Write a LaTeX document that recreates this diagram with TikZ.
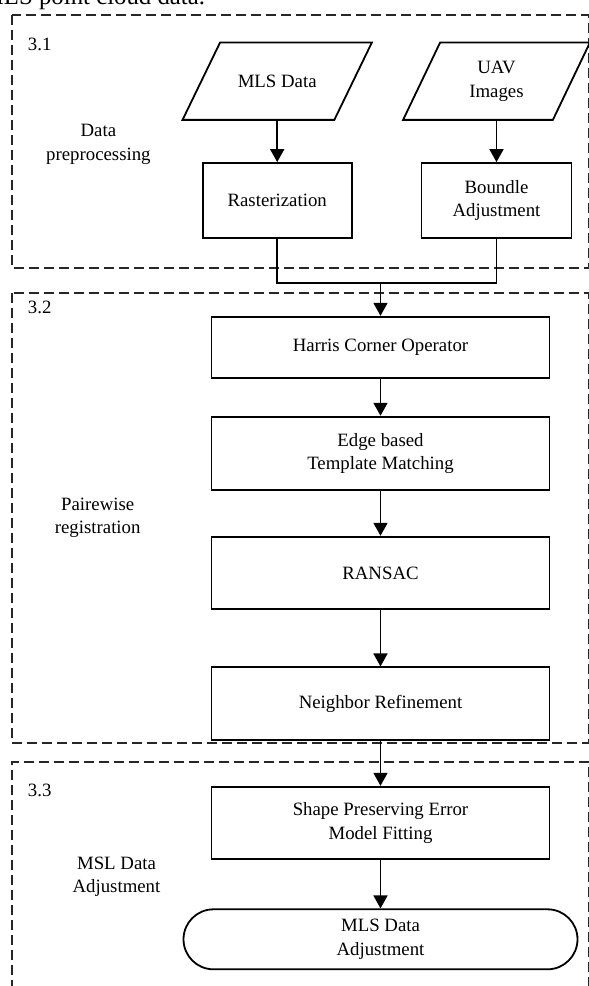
\documentclass[tikz,border=0pt]{standalone}
\usepackage{fontspec}
\setmainfont{Liberation Serif}
\usetikzlibrary{arrows.meta,calc}
\begin{document}
\begin{tikzpicture}[x=1pt,y=-1pt,
  line width=1.8pt,
  font=\fontsize{18.8}{23.3}\selectfont,
  group/.style={draw=black!85,line width=1.7pt,dash pattern=on 10pt off 5pt},
  proc/.style={draw,line width=1.8pt,align=center,inner sep=0pt},
  term/.style={draw,line width=1.8pt,align=center,inner sep=0pt,rounded corners=30pt},
  ioshape/.style={align=center,inner sep=0pt,minimum width=150pt,minimum height=75.5pt},
  lbl/.style={align=center,inner sep=0pt},
  num/.style={anchor=west,inner sep=0pt},
  arr/.style={-{Triangle[length=13pt,width=14pt]},line width=1.8pt}]
\useasboundingbox (0,0) rectangle (589,986);
\clip (0,0) rectangle (589,986);

% cropped caption line at the top
\node[anchor=base west,inner sep=0pt,font=\fontsize{24.8}{28}\selectfont] (cap) at (-19,4) {MLS point cloud data.};

% group frames
\draw[group] (12,15) rectangle (588.5,268);
\draw[group] (12,293) rectangle (588.5,742.7);
\draw[group] (12,990) -- (12,761.7) -- (588.5,761.7) -- (588.5,990);

% group numbers and labels
\node[num] (n1) at (27,44) {3.1};
\node[num] (n2) at (27,307) {3.2};
\node[num] (n3) at (27,790) {3.3};
\node[lbl] (l1) at (98.4,144.5) {Data\\preprocessing};
\node[lbl] (l2) at (97.7,518) {Pairewise\\registration};
\node[lbl] (l3) at (116.5,877) {MSL Data\\Adjustment};

% input parallelograms
\node[ioshape] (mls) at (277.2,81.2) {MLS Data};
\draw ([xshift=-18.75pt]mls.south west) -- ([xshift=-18.75pt]mls.south east)
      -- ([xshift=18.75pt]mls.north east) -- ([xshift=18.75pt]mls.north west) -- cycle;
\node[ioshape,minimum width=148pt] (uav) at (496.5,81.2) {UAV\\Images};
\draw ([xshift=-18.5pt]uav.south west) -- ([xshift=-18.5pt]uav.south east)
      -- ([xshift=18.5pt]uav.north east) -- ([xshift=18.5pt]uav.north west) -- cycle;

% process boxes
\node[proc,minimum width=149pt,minimum height=75pt] (rast) at (277.2,200.5) {Rasterization};
\node[proc,minimum width=150pt,minimum height=75pt] (bound) at (496.5,200.5) {Boundle\\Adjustment};
\node[proc,minimum width=338pt,minimum height=61pt] (harris) at (380.5,347.2) {Harris Corner Operator};
\node[proc,minimum width=338pt,minimum height=73.3pt] (edge) at (380.5,453.3) {Edge based\\Template Matching};
\node[proc,minimum width=338pt,minimum height=72.6pt] (ransac) at (380.5,573) {RANSAC};
\node[proc,minimum width=338pt,minimum height=72.7pt] (neigh) at (380.5,703.7) {Neighbor Refinement};
\node[proc,minimum width=338pt,minimum height=72.6pt] (shape) at (380.5,823) {Shape Preserving Error\\Model Fitting};
\node[term,minimum width=394pt,minimum height=60pt] (out) at (380.5,939.3) {MLS Data\\Adjustment};

% connectors
\draw[arr] (mls) -- (rast);
\draw[arr] (uav) -- (bound);
\coordinate (j) at (380.5,283);
\draw (rast.south) |- (j) -| (bound.south);
\draw[arr] (j) -- (harris);
\draw[arr] (harris) -- (edge);
\draw[arr] (edge) -- (ransac);
\draw[arr] (ransac) -- (neigh);
\draw[arr] (neigh) -- (shape);
\draw[arr] (shape) -- (out);
\end{tikzpicture}
\end{document}
